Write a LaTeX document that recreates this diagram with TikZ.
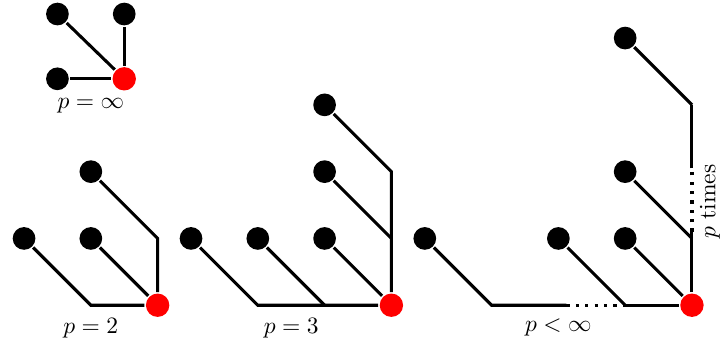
\documentclass[tikz,border=0pt]{standalone}
\usetikzlibrary{
    calc,
    shapes.geometric
}
\tikzset{
  every path/.style={
    black,
    line width=1.3pt
  },
  leaf/.style={
    circle,
    fill=black,
    minimum size=0.34cm,
    inner sep=0pt
  },
  root/.style={
    circle,
    fill=red,
    minimum size=0.35cm,
    inner sep=0pt
  },
  dotline/.style={
    line width=1.4pt,
    dash pattern=on 1.4pt off 2.6pt
  }
}

\begin{document}
\begin{tikzpicture}[thick]
    \useasboundingbox (-0.36,-0.63) rectangle (10.45,4.57);
    %-------------------------
    %p = infinity
    %-------------------------
    \node[leaf] (s1) at (0.5,4.36) {};
    \node[leaf] (s2) at (1.5,4.36) {};
    \node[leaf] (s3) at (0.5,3.39) {};
    \node[root] (r0) at (1.5,3.39) {};

    \draw (s1) -- (r0);
    \draw (s2) -- (r0);
    \draw (s3) -- (r0);

    \node (l0) at (1,2.98) {$p=\infty$};

    %-------------------------
    %p = 2
    %-------------------------
    \node[leaf] (a1) at (0,1) {};
    \node[leaf] (a2) at (1,1) {};
    \node[leaf] (a3) at (1,2) {};
    \node[root] (r2) at (2,0) {};
    \coordinate (b1) at (1,0);
    \coordinate (b2) at (2,1);

    \draw (a1) -- (b1) -- (r2);
    \draw (a2) -- (r2);
    \draw (a3) -- (b2) -- (r2);

    \node (l2) at (1,-0.35) {$p=2$};

    %-------------------------
    %p = 3
    %-------------------------
    \node[leaf] (c1) at (2.5,1) {};
    \node[leaf] (c2) at (3.5,1) {};
    \node[leaf] (c3) at (4.5,1) {};
    \node[leaf] (c4) at (4.5,2) {};
    \node[leaf] (c5) at (4.5,3) {};
    \node[root] (r3) at (5.5,0) {};
    \coordinate (d1) at (3.5,0);
    \coordinate (d2) at (4.5,0);
    \coordinate (d3) at (5.5,1);
    \coordinate (d4) at (5.5,2);

    \draw (c1) -- (d1) -- (d2) -- (r3);
    \draw (c2) -- (d2);
    \draw (c3) -- (r3);
    \draw (c4) -- (d3);
    \draw (c5) -- (d4) -- (d3) -- (r3);

    \node (l3) at (4,-0.34) {$p=3$};

    %-------------------------
    %p < infinity
    %-------------------------
    \node[leaf] (e1) at (6,1) {};
    \node[leaf] (e2) at (8,1) {};
    \node[leaf] (e3) at (9,1) {};
    \node[leaf] (e4) at (9,2) {};
    \node[leaf] (e5) at (9,4) {};
    \node[root] (rp) at (10,0) {};
    \coordinate (f1) at (7,0);
    \coordinate (h1) at (8.12,0);
    \coordinate (f3) at (9,0);
    \coordinate (f4) at (10,1);
    \coordinate (v1) at (10,1.1);
    \coordinate (v2) at (10,2.05);
    \coordinate (f5) at (10,3);

    \draw (e1) -- (f1) -- (h1);
    \draw[dotline] (h1) -- (f3);
    \draw (f3) -- (rp);
    \draw (e2) -- (f3);
    \draw (e3) -- (rp);
    \draw (e4) -- (f4);
    \draw (rp) -- (v1);
    \draw[dotline] (v1) -- (v2);
    \draw (v2) -- (f5);
    \draw (e5) -- (f5);

    \node (lp) at (8,-0.34) {$p<\infty$};
    \node[rotate=90] (pt) at (10.27,1.55) {$p$ times};

    \end{tikzpicture}
\end{document}
